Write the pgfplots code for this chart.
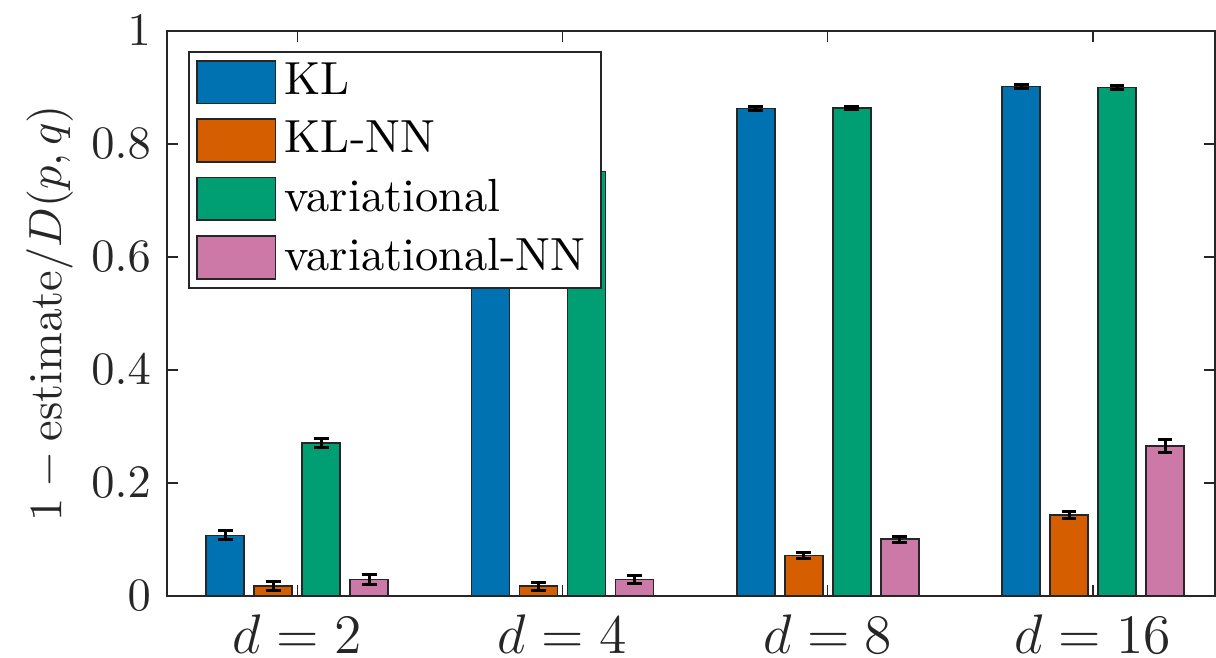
\documentclass[border=0pt]{standalone}
\usepackage{pgfplots}
\pgfplotsset{compat=1.18}
\definecolor{cKL}{HTML}{0072B2}
\definecolor{cKLNN}{HTML}{D55E00}
\definecolor{cVar}{HTML}{009E73}
\definecolor{cVarNN}{HTML}{CC79A7}
\definecolor{axgray}{rgb}{0.15,0.15,0.15}
\pgfplotstableread{
x y e
0 0.107 0.008
1 0.750 0.004
2 0.863 0.003
3 0.902 0.003
}\tKL
\pgfplotstableread{
x y e
0 0.017 0.008
1 0.017 0.007
2 0.071 0.005
3 0.143 0.007
}\tKLNN
\pgfplotstableread{
x y e
0 0.271 0.008
1 0.751 0.004
2 0.864 0.003
3 0.900 0.003
}\tVar
\pgfplotstableread{
x y e
0 0.029 0.009
1 0.029 0.007
2 0.100 0.005
3 0.265 0.011
}\tVarNN
\begin{document}
\begin{tikzpicture}
\begin{axis}[
  at={(0,0)}, anchor=south west,
  scale only axis, width=225.6pt, height=121.6pt,
  xmin=-0.49, xmax=3.46, ymin=0, ymax=1,
  ybar=2.15pt, bar width=8.18pt,
  xtick={0,1,2,3}, xticklabels={$d=2$,$d=4$,$d=8$,$d=16$},
  ytick={0,0.2,0.4,0.6,0.8,1},
  yticklabels={$0$,$0.2$,$0.4$,$0.6$,$0.8$,$1$},
  tick align=inside, major tick length=2.4pt,
  tick style={draw=axgray, line width=0.3pt},
  axis line style={draw=axgray, line width=0.4pt},
  ticklabel style={text=axgray},
  xticklabel style={yshift=-0.5pt, font=\large},
  ylabel={$1-\mathrm{estimate}/D(p,q)$},
  ylabel style={at={(axis description cs:-0.112,0.5)}, anchor=center, text=axgray},
  every axis plot/.append style={draw=black!85, line width=0.35pt},
  error bars/error bar style={black, line width=0.65pt},
  error bars/error mark options={rotate=90, black, line width=0.65pt, mark size=1.6pt},
  legend cell align=left,
  legend image code/.code={\draw[#1,/tikz/.cd] (0pt,-4.6pt) rectangle (17pt,4.6pt);},
  legend style={at={(rel axis cs:0,1)}, anchor=north west, xshift=4.5pt, yshift=-4.4pt,
    draw=axgray, line width=0.35pt, inner xsep=1.5pt, inner ysep=0.8pt, row sep=1.2pt,
    nodes={inner xsep=1.8pt, inner ysep=1.5pt, text=black}},
]
\addplot[fill=cKL, error bars/.cd, y dir=both, y explicit] table[x=x, y=y, y error=e] {\tKL};
\addplot[fill=cKLNN, error bars/.cd, y dir=both, y explicit] table[x=x, y=y, y error=e] {\tKLNN};
\addplot[fill=cVar, error bars/.cd, y dir=both, y explicit] table[x=x, y=y, y error=e] {\tVar};
\addplot[fill=cVarNN, error bars/.cd, y dir=both, y explicit] table[x=x, y=y, y error=e] {\tVarNN};
\legend{KL, KL-NN, variational, variational-NN}
\end{axis}
\pgfresetboundingbox
\path[use as bounding box] (-36pt,-13.35pt) rectangle (225.8pt,128.27pt);
\end{tikzpicture}
\end{document}
